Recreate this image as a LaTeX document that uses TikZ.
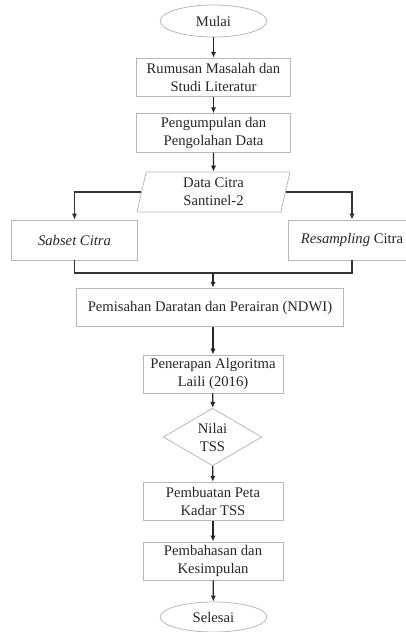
\documentclass[tikz,border=0pt]{standalone}
\usepackage{fontspec}
\setmainfont{Liberation Serif}
\usetikzlibrary{arrows.meta,positioning,calc,shapes.geometric}

\begin{document}
\begin{tikzpicture}[x=0.75pt,y=-0.75pt,>={Latex[length=4.5pt,width=4pt]},
  every node/.style={font=\fontsize{11}{13.5}\selectfont,text=black!85,align=center,inner sep=1pt},
  box/.style={draw=black!28,line width=0.6pt},
  term/.style={draw=black!28,line width=0.6pt,ellipse,minimum width=80pt,minimum height=24pt},
  io/.style={draw=black!28,line width=0.6pt,trapezium,trapezium left angle=82,trapezium right angle=98,trapezium stretches=true,minimum width=115pt,minimum height=30pt},
  decide/.style={draw=black!28,line width=0.6pt,diamond,inner sep=0pt,minimum width=74pt,minimum height=34.5pt},
  flow/.style={->,draw=black!85,line width=0.9pt},
  branch/.style={draw=black!80,line width=1.3pt}]
\useasboundingbox (0,0) rectangle (406,632);
\node[term] (mulai) at (213.5,21) {Mulai};
\node[box,minimum width=115pt,minimum height=29pt] (rumusan) at (213.5,77.5) {Rumusan Masalah dan\\Studi Literatur};
\node[box,minimum width=115pt,minimum height=29pt] (kumpul) at (213.5,133) {Pengumpulan dan\\Pengolahan Data};
\node[io] (data) at (213.5,192) {Data Citra\\Santinel-2};
\node[box,minimum width=94pt,minimum height=30pt] (sabset) at (74.5,240) {\textit{Sabset Citra}};
\node[box,minimum width=96pt,minimum height=30pt] (resamp) at (352,240) {\textit{Resampling} Citra};
\coordinate (join) at (213,273);
\node[box,minimum width=200pt,minimum height=29pt] (ndwi) at (210,307.5) {Pemisahan Daratan dan Perairan (NDWI)};
\node[box,minimum width=105pt,minimum height=28.5pt] (terap) at (213,374) {Penerapan Algoritma\\Laili (2016)};
\node[decide] (nilai) at (212.5,437) {Nilai\\TSS};
\node[box,minimum width=105pt,minimum height=29pt] (buat) at (213,501.5) {Pembuatan Peta\\Kadar TSS};
\node[box,minimum width=105pt,minimum height=28.5pt] (bahas) at (213,561) {Pembahasan dan\\Kesimpulan};
\node[term,minimum height=22.5pt] (selesai) at (213.5,617) {Selesai};
\draw[flow] (mulai)--(rumusan);\draw[flow] (rumusan)--(kumpul);\draw[flow] (kumpul)--(data);
\draw[branch,->] (data.west) -| (sabset.north);
\draw[branch,->] (data.east) -| (resamp.north);
\draw[branch] (sabset.south) |- (join) -| (resamp.south);
\draw[flow] (join)--(join |- ndwi.north);
\draw[flow] (ndwi.south -| terap)--(terap);\draw[flow] (terap)--(nilai);\draw[flow] (nilai)--(buat);
\draw[flow] (buat)--(bahas);\draw[flow] (bahas)--(selesai);
\end{tikzpicture}
\end{document}
